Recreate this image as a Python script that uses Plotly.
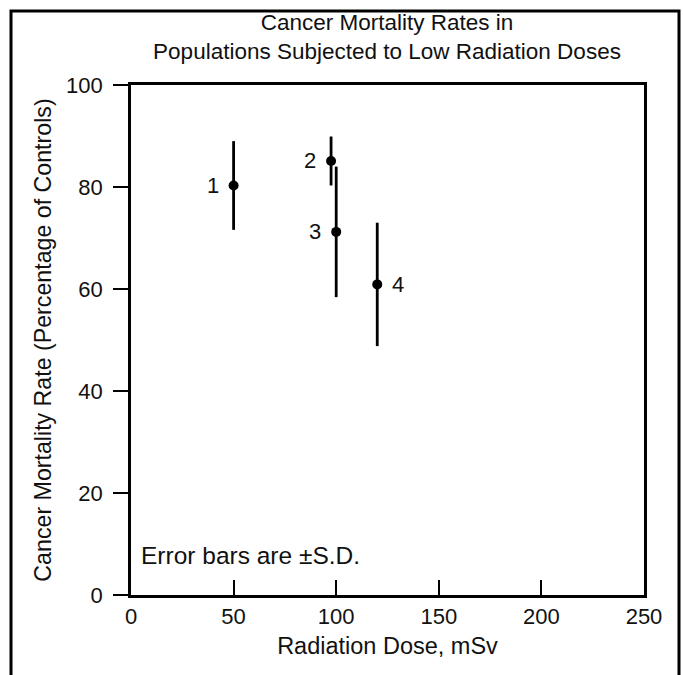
import plotly.graph_objects as go

# Data
study_labels = ["1", "2", "3", "4"]
dose_msv = [50, 97.5, 100, 120]
mortality_pct = [80.3, 85.1, 71.2, 60.9]
sd_pct = [8.7, 4.8, 12.8, 12.1]
label_side = ["left", "left", "left", "right"]

x_ticks = [0, 50, 100, 150, 200, 250]
y_ticks = [0, 20, 40, 60, 80, 100]

FONT = "Liberation Sans, Arial, Helvetica, sans-serif"
INK = "#111"
W, H = 683, 675
L, R, T, B = 131, 39, 85, 80

fig = go.Figure()
fig.add_trace(go.Scatter(
    x=dose_msv, y=mortality_pct,
    mode="markers",
    marker=dict(color="black", size=10),
    error_y=dict(type="data", array=sd_pct, visible=True,
                 color="black", thickness=2.8, width=0),
    showlegend=False,
    cliponaxis=False,
    hoverinfo="skip",
))

# study number labels beside each point
for xv, yv, lab, side in zip(dose_msv, mortality_pct, study_labels, label_side):
    fig.add_annotation(
        x=xv, y=yv, xref="x", yref="y", text=lab, showarrow=False,
        xanchor="right" if side == "left" else "left", yanchor="middle",
        xshift=-13 if side == "left" else 13,
        font=dict(family=FONT, size=22, color=INK),
    )

fig.add_annotation(
    x=4, y=7.8, xref="x", yref="y", xanchor="left", yanchor="middle",
    text="Error bars are ±S.D.", showarrow=False,
    font=dict(family=FONT, size=24.5, color=INK),
)

pw = W - L - R
ph = H - T - B
# outer frame around the whole figure
fig.add_shape(type="rect", xref="paper", yref="paper",
              x0=(11 - L) / pw, x1=(679 - L) / pw,
              y0=(H - T - 700) / ph, y1=(H - T - 6) / ph,
              line=dict(color="black", width=3), fillcolor="rgba(0,0,0,0)")

fig.update_layout(
    width=W, height=H,
    margin=dict(l=L, r=R, t=T, b=B),
    paper_bgcolor="white", plot_bgcolor="white",
    font=dict(family=FONT, color=INK),
    title=dict(
        text="Cancer Mortality Rates in<br>Populations Subjected to Low Radiation Doses",
        x=387 / W, xanchor="center", y=1 - 30 / H, yanchor="middle",
        font=dict(family=FONT, size=22.5, color=INK),
    ),
    xaxis=dict(
        range=[0, 250], tickvals=x_ticks, ticks="inside", ticklen=15,
        tickwidth=2, tickcolor="black",
        showline=True, linecolor="black", linewidth=2.8, mirror=True,
        showgrid=False, zeroline=False,
        tickfont=dict(family=FONT, size=22, color=INK),
        title=dict(text="Radiation Dose, mSv", standoff=10,
                   font=dict(family=FONT, size=23.5, color=INK)),
    ),
    yaxis=dict(
        range=[0, 100], tickvals=y_ticks, ticks="outside", ticklen=15,
        tickwidth=2, tickcolor="black", ticklabelstandoff=6,
        showline=True, linecolor="black", linewidth=2.8, mirror=True,
        showgrid=False, zeroline=False,
        tickfont=dict(family=FONT, size=22, color=INK),
        title=dict(text="Cancer Mortality Rate (Percentage of Controls)", standoff=8,
                   font=dict(family=FONT, size=23.2, color=INK)),
    ),
)

fig.write_html("out.html", config={"displayModeBar": False},
               post_script="document.body.style.margin='0px';")
